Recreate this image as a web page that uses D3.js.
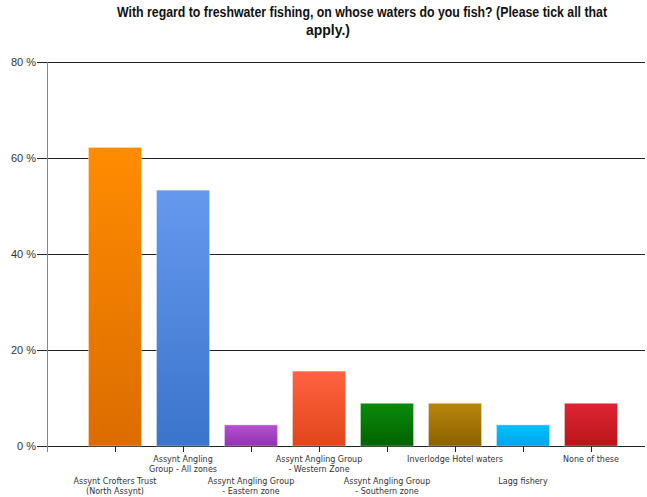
<!DOCTYPE html>
<html>
<head>
<meta charset="utf-8">
<script src="https://cdn.jsdelivr.net/npm/d3@7"></script>
<style>
  body { margin: 0; background: #fff; }
  svg { display: block; }
</style>
</head>
<body>
<div id="chart"></div>
<script>
// chart data
var categories = [
    'Assynt Crofters Trust (North Assynt)',
    'Assynt Angling Group - All zones',
    'Assynt Angling Group - Eastern zone',
    'Assynt Angling Group - Western Zone',
    'Assynt Angling Group - Southern zone',
    'Inverlodge Hotel waters',
    'Lagg fishery',
    'None of these'
];
// wrapped lines for the axis labels
var labelLines = [
    ['Assynt Crofters Trust', '(North Assynt)'],
    ['Assynt Angling', 'Group - All zones'],
    ['Assynt Angling Group', '- Eastern zone'],
    ['Assynt Angling Group', '- Western Zone'],
    ['Assynt Angling Group', '- Southern zone'],
    ['Inverlodge Hotel waters'],
    ['Lagg fishery'],
    ['None of these']
];
var values = [62.2, 53.3, 4.4, 15.6, 8.9, 8.9, 4.4, 8.9];
var yTicks = [0, 20, 40, 60, 80];
var barColors = [
    ['#ff8c00', '#dc6c00'],
    ['#6699ee', '#3b74cb'],
    ['#b452d2', '#9232b0'],
    ['#ff6241', '#e0461a'],
    ['#0b8a0b', '#006300'],
    ['#b8860b', '#8c6200'],
    ['#00c0ff', '#00a6ea'],
    ['#de2435', '#ba1618']
];
var titleLines = [
    'With regard to freshwater fishing, on whose waters do you fish? (Please tick all that',
    'apply.)'
];

var width = 647, height = 497;
var plotLeft = 47, plotRight = 645, plotTop = 62, plotBottom = 446;

var svg = d3.select('#chart')
    .append('svg')
    .attr('width', width)
    .attr('height', height);

var x = d3.scaleBand()
    .domain(categories)
    .range([81, 625])
    .paddingInner(0.22)
    .paddingOuter(0.11);

var y = d3.scaleLinear()
    .domain([0, 80])
    .range([plotBottom, plotTop]);

// gradients for the bars
var defs = svg.append('defs');
barColors.forEach(function (c, i) {
    var g = defs.append('linearGradient')
        .attr('id', 'grad' + i)
        .attr('x1', 0).attr('y1', 0)
        .attr('x2', 0).attr('y2', 1);
    g.append('stop').attr('offset', '0%').attr('stop-color', c[0]);
    g.append('stop').attr('offset', '100%').attr('stop-color', c[1]);
});

// title
svg.append('text')
    .attr('x', 362).attr('y', 17)
    .attr('text-anchor', 'middle')
    .attr('font-family', 'Liberation Sans, Arial, sans-serif')
    .attr('font-size', '14px')
    .attr('font-weight', 'bold')
    .attr('fill', '#111')
    .attr('textLength', 490)
    .attr('lengthAdjust', 'spacingAndGlyphs')
    .text(titleLines[0]);
svg.append('text')
    .attr('x', 328).attr('y', 35)
    .attr('text-anchor', 'middle')
    .attr('font-family', 'Liberation Sans, Arial, sans-serif')
    .attr('font-size', '14px')
    .attr('font-weight', 'bold')
    .attr('fill', '#111')
    .text(titleLines[1]);

// y gridlines with outward ticks
var yAxis = d3.axisLeft(y)
    .tickValues(yTicks)
    .tickSize(-(plotRight - plotLeft))
    .tickSizeOuter(0)
    .tickPadding(12)
    .tickFormat(function (d) { return d + ' %'; });

var gy = svg.append('g')
    .attr('transform', 'translate(' + plotLeft + ',0)')
    .call(yAxis);
gy.select('.domain').remove();
gy.selectAll('.tick line')
    .attr('x1', -10)
    .attr('stroke', '#222')
    .attr('shape-rendering', 'crispEdges');
gy.selectAll('.tick text')
    .attr('font-family', 'Liberation Sans, Arial, sans-serif')
    .attr('font-size', '11px')
    .attr('fill', '#333')
    .attr('x', -11);

// bars
svg.selectAll('.bar')
    .data(values)
    .enter()
    .append('rect')
    .attr('class', 'bar')
    .attr('x', function (d, i) { return x(categories[i]); })
    .attr('y', function (d) { return y(d); })
    .attr('width', x.bandwidth())
    .attr('height', function (d) { return y(0) - y(d); })
    .attr('fill', function (d, i) { return 'url(#grad' + i + ')'; })
    .attr('stroke', 'rgba(255,255,255,0.35)')
    .attr('stroke-width', 1);

// y axis line
svg.append('line')
    .attr('x1', plotLeft).attr('x2', plotLeft)
    .attr('y1', plotTop).attr('y2', plotBottom + 6)
    .attr('stroke', '#888')
    .attr('shape-rendering', 'crispEdges');

// x axis ticks
var gx = svg.append('g')
    .attr('transform', 'translate(0,' + plotBottom + ')');
gx.selectAll('line')
    .data(categories)
    .enter()
    .append('line')
    .attr('x1', function (d) { return x(d) + x.bandwidth() / 2; })
    .attr('x2', function (d) { return x(d) + x.bandwidth() / 2; })
    .attr('y1', 0).attr('y2', 6)
    .attr('stroke', '#222')
    .attr('shape-rendering', 'crispEdges');

// staggered category labels
var labels = svg.selectAll('.xlabel')
    .data(labelLines)
    .enter()
    .append('text')
    .attr('class', 'xlabel')
    .attr('text-anchor', 'middle')
    .attr('font-family', 'DejaVu Sans, Verdana, sans-serif')
    .attr('font-size', '8px')
    .attr('fill', '#333')
    .attr('transform', function (d, i) {
        var cx = x(categories[i]) + x.bandwidth() / 2;
        var ty = (i % 2 === 1) ? 462 : 484;
        return 'translate(' + cx + ',' + ty + ')';
    });
labels.selectAll('tspan')
    .data(function (d) { return d; })
    .enter()
    .append('tspan')
    .attr('x', 0)
    .attr('dy', function (d, j) { return j === 0 ? 0 : 9.5; })
    .text(function (d) { return d; });
</script>
</body>
</html>
